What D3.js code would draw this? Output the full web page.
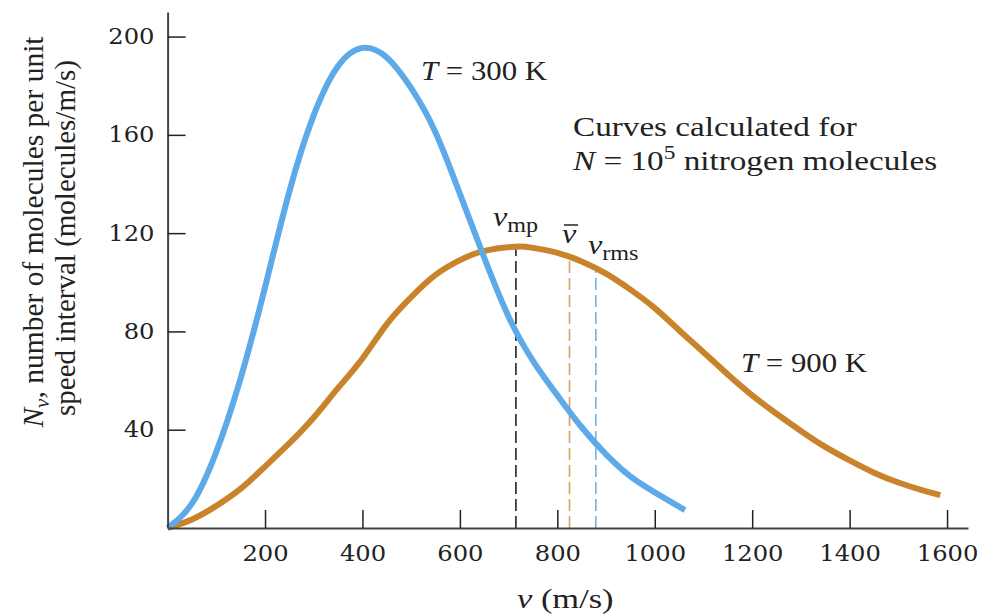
<!DOCTYPE html>
<meta charset="utf-8">
<style>
body { margin: 0; background: #fff; }
text { font-family: "Liberation Serif", serif; fill: #222; }
.axis text { font-family: "DejaVu Serif", serif; }
.axis path { stroke: #444; stroke-width: 2px; }
.axis line { stroke: #222; stroke-width: 1.5px; }
.curve { fill: none; stroke-width: 6px; }
</style>
<svg width="982" height="614"></svg>
<script src="https://d3js.org/d3.v7.min.js"></script>
<script>

// speed (m/s) and N_v values
var speed300 = [0, 50, 100, 150, 200, 250, 300, 350, 400, 450, 500, 550, 600, 650, 700, 750, 800, 850, 900, 950, 1000, 1062];
var nv300    = [0, 10, 31, 61, 98, 137, 168, 188, 195.4, 191.5, 179, 161, 136, 110, 86, 68, 54, 41, 30, 21, 14.5, 7.3];

var speed900 = [0, 50, 100, 150, 200, 250, 300, 350, 400, 450, 500, 550, 600, 650, 713, 750, 800, 850, 900, 950, 1000, 1050, 1100, 1150, 1200, 1250, 1300, 1350, 1400, 1450, 1500, 1550, 1586];
var nv900    = [0, 3.5, 9, 16, 25, 34.5, 45, 57, 69, 83, 94, 103, 109, 112.8, 114.5, 114, 112, 108.5, 103.5, 97, 89.5, 80.5, 71.5, 62.5, 54, 46.5, 39.5, 33, 27.5, 22.5, 18.5, 15.3, 13.4];

// characteristic speeds for T = 900 K and the curve height there
var markSpeed = [715, 825, 879];
var markTop   = [114.5, 110.3, 105.6];
var markColor = ["#222", "#d9a05a", "#6cb4ef"];

var xTicks = [200, 400, 600, 800, 1000, 1200, 1400, 1600];
var yTicks = [40, 80, 120, 160, 200];

var svg = d3.select("svg");

var x = d3.scaleLinear().domain([0, 1643]).range([167.6, 968]);
var y = d3.scaleLinear().domain([0, 210]).range([528, 12]);

var line = d3.line()
    .curve(d3.curveNatural)
    .x(function(d) { return x(d[0]); })
    .y(function(d) { return y(d[1]); });

// dashed markers first so curves sit on top
markSpeed.forEach(function(s, i) {
  svg.append("line")
      .attr("x1", x(s)).attr("x2", x(s))
      .attr("y1", y(0)).attr("y2", y(markTop[i]))
      .attr("stroke", markColor[i])
      .attr("stroke-width", 1.6)
      .attr("stroke-dasharray", "12,5");
});

svg.append("path")
    .datum(d3.zip(speed900, nv900))
    .attr("class", "curve")
    .attr("stroke", "#c9842b")
    .attr("d", line);

svg.append("path")
    .datum(d3.zip(speed300, nv300))
    .attr("class", "curve")
    .attr("stroke", "#5eaae8")
    .attr("d", line);

svg.append("g")
    .attr("class", "axis")
    .attr("transform", "translate(0," + y(0) + ")")
    .call(d3.axisBottom(x).tickValues(xTicks).tickFormat(d3.format("d"))
      .tickSizeInner(-18).tickSizeOuter(0).tickPadding(17));

svg.append("g")
    .attr("class", "axis")
    .attr("transform", "translate(" + x(0) + ",0)")
    .call(d3.axisLeft(y).tickValues(yTicks).tickSizeInner(-18).tickSizeOuter(0).tickPadding(12));

svg.selectAll(".axis text")
    .attr("font-size", 22)
    .attr("fill", "#222")
    .attr("transform", "scale(1.1,1)");

// widened text helper
function label(px, py, size, sx) {
  return svg.append("text")
      .attr("transform", "translate(" + px + "," + py + ") scale(" + (sx || 1.23) + ",1)")
      .attr("font-size", size);
}

var t1 = label(421, 80, 28, 1.1);
t1.append("tspan").attr("font-style", "italic").text("T");
t1.append("tspan").text(" = 300 K");

var t2 = label(741, 372, 28, 1.1);
t2.append("tspan").attr("font-style", "italic").text("T");
t2.append("tspan").text(" = 900 K");

label(573, 136, 27).text("Curves calculated for");
var n = label(573, 170, 27);
n.append("tspan").attr("font-style", "italic").text("N");
n.append("tspan").text(" = 10");
n.append("tspan").attr("font-size", 19).attr("dy", -11).text("5");
n.append("tspan").attr("dy", 11).text(" nitrogen molecules");

var vmp = label(493, 226, 28, 1.15);
vmp.append("tspan").attr("font-style", "italic").text("v");
vmp.append("tspan").attr("font-size", 21).attr("dy", 6).text("mp");

var vav = label(562, 243, 28, 1.15);
vav.append("tspan").attr("font-style", "italic").text("v");
svg.append("line")
    .attr("x1", 564).attr("x2", 578)
    .attr("y1", 225).attr("y2", 225)
    .attr("stroke", "#222").attr("stroke-width", 1.5);

var vrms = label(588, 254, 28, 1.15);
vrms.append("tspan").attr("font-style", "italic").text("v");
vrms.append("tspan").attr("font-size", 21).attr("dy", 6).text("rms");

var xt = label(517, 608, 28);
xt.append("tspan").attr("font-style", "italic").text("v");
xt.append("tspan").text(" (m/s)");

// rotated y title, two lines
var yt = svg.append("g").attr("transform", "translate(43,232) rotate(-90)");
var l1 = yt.append("text").attr("text-anchor", "middle").attr("font-size", 29.5);
l1.append("tspan").attr("font-style", "italic").text("N");
l1.append("tspan").attr("font-style", "italic").attr("font-size", 21).attr("dy", 6).text("v");
l1.append("tspan").attr("dy", -6).text(", number of molecules per unit");
yt.append("text").attr("text-anchor", "middle").attr("font-size", 29)
    .attr("x", -6).attr("y", 32)
    .text("speed interval (molecules/m/s)");

</script>
